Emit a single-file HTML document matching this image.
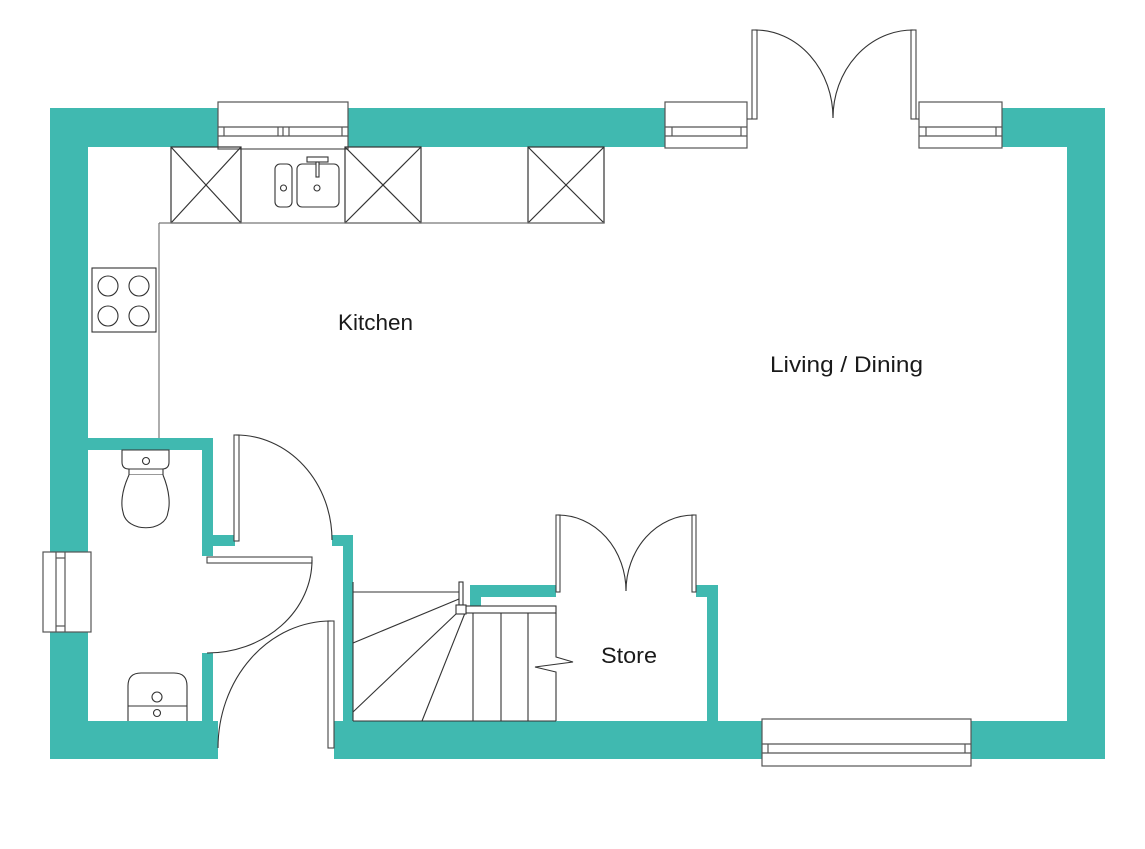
<!DOCTYPE html>
<html>
<head>
<meta charset="utf-8">
<style>
html,body{margin:0;padding:0;background:#fff;}
svg{display:block;}
text{font-family:"Liberation Sans",sans-serif;fill:#1a1a1a;}
</style>
</head>
<body>
<svg width="1145" height="849" viewBox="0 0 1145 849" xmlns="http://www.w3.org/2000/svg">
<rect x="0" y="0" width="1145" height="849" fill="#fff"/>

<!-- Walls -->
<g fill="#40b9b0">
  <rect x="50" y="108" width="38" height="651"/>
  <rect x="50" y="108" width="697" height="39"/>
  <rect x="919" y="108" width="186" height="39"/>
  <rect x="1067" y="108" width="38" height="651"/>
  <rect x="50" y="721" width="168" height="38"/>
  <rect x="334" y="721" width="771" height="38"/>
  <rect x="88" y="438" width="125" height="12"/>
  <rect x="202" y="438" width="11" height="118"/>
  <rect x="202" y="535" width="33" height="11"/>
  <rect x="202" y="653" width="11" height="68"/>
  <rect x="332" y="535" width="21" height="11"/>
  <rect x="343" y="535" width="10" height="186"/>
  <rect x="470" y="585" width="86" height="12"/>
  <rect x="470" y="585" width="11" height="21"/>
  <rect x="696" y="585" width="22" height="12"/>
  <rect x="707" y="585" width="11" height="136"/>
</g>

<!-- Windows -->
<g fill="#fff" stroke="#555" stroke-width="1.2">
  <rect x="218" y="102" width="130" height="47"/>
  <line x1="218" y1="127" x2="348" y2="127"/>
  <line x1="218" y1="136" x2="348" y2="136"/>
  <line x1="224" y1="127" x2="224" y2="136"/>
  <line x1="278" y1="127" x2="278" y2="136"/>
  <line x1="283" y1="127" x2="283" y2="136"/>
  <line x1="289" y1="127" x2="289" y2="136"/>
  <line x1="342" y1="127" x2="342" y2="136"/>
  <rect x="665" y="102" width="82" height="46"/>
  <line x1="665" y1="127" x2="747" y2="127"/>
  <line x1="665" y1="136" x2="747" y2="136"/>
  <line x1="672" y1="127" x2="672" y2="136"/>
  <line x1="741" y1="127" x2="741" y2="136"/>
  <rect x="919" y="102" width="83" height="46"/>
  <line x1="919" y1="127" x2="1002" y2="127"/>
  <line x1="919" y1="136" x2="1002" y2="136"/>
  <line x1="926" y1="127" x2="926" y2="136"/>
  <line x1="996" y1="127" x2="996" y2="136"/>
  <rect x="762" y="719" width="209" height="47"/>
  <line x1="762" y1="744" x2="971" y2="744"/>
  <line x1="762" y1="753" x2="971" y2="753"/>
  <line x1="768" y1="744" x2="768" y2="753"/>
  <line x1="965" y1="744" x2="965" y2="753"/>
  <rect x="43" y="552" width="48" height="80"/>
  <line x1="56" y1="552" x2="56" y2="632"/>
  <line x1="65" y1="552" x2="65" y2="632"/>
  <line x1="56" y1="558" x2="65" y2="558"/>
  <line x1="56" y1="626" x2="65" y2="626"/>
</g>

<!-- Door leaves -->
<g fill="#fff" stroke="#444" stroke-width="1.1">
  <rect x="752" y="30" width="5" height="89"/>
  <line x1="747" y1="119" x2="752" y2="119"/>
  <rect x="911" y="30" width="5" height="89"/>
  <line x1="916" y1="119" x2="919" y2="119"/>
  <rect x="556" y="515" width="4" height="77"/>
  <rect x="692" y="515" width="4" height="77"/>
  <rect x="234" y="435" width="5" height="106"/>
  <rect x="207" y="557" width="105" height="6"/>
  <rect x="328" y="621" width="6" height="127"/>
</g>

<!-- Door swings -->
<g fill="none" stroke="#333" stroke-width="1.1">
  <path d="M755,30 A78 88 0 0 1 833,118"/>
  <path d="M913,30 A80 88 0 0 0 833,118"/>
  <path d="M558,515 A68 76 0 0 1 626,591"/>
  <path d="M694,515 A68 76 0 0 0 626,591"/>
  <path d="M236,435 A96 105 0 0 1 332,540"/>
  <path d="M312,560 A105 93 0 0 1 207,653"/>
  <path d="M331,621 A113 127 0 0 0 218,748"/>
</g>

<!-- Kitchen units -->
<g fill="none" stroke="#333" stroke-width="1.2">
  <rect x="171" y="147" width="70" height="76"/>
  <line x1="171" y1="147" x2="241" y2="223"/>
  <line x1="241" y1="147" x2="171" y2="223"/>
  <rect x="345" y="147" width="76" height="76"/>
  <line x1="345" y1="147" x2="421" y2="223"/>
  <line x1="421" y1="147" x2="345" y2="223"/>
  <rect x="528" y="147" width="76" height="76"/>
  <line x1="528" y1="147" x2="604" y2="223"/>
  <line x1="604" y1="147" x2="528" y2="223"/>
</g>
<g fill="none" stroke="#777" stroke-width="1.2">
  <line x1="159" y1="223" x2="604" y2="223"/>
  <line x1="159" y1="223" x2="159" y2="438"/>
</g>
<!-- Sink -->
<g fill="#fff" stroke="#333" stroke-width="1.1">
  <rect x="275" y="164" width="17" height="43" rx="5"/>
  <circle cx="283.5" cy="188" r="3"/>
  <rect x="297" y="164" width="42" height="43" rx="5"/>
  <circle cx="317" cy="188" r="3"/>
  <rect x="307" y="157" width="21" height="5"/>
  <rect x="316" y="162" width="3" height="15"/>
</g>
<!-- Hob -->
<g fill="#fff" stroke="#333" stroke-width="1.1">
  <rect x="92" y="268" width="64" height="64"/>
  <circle cx="108" cy="286" r="10"/>
  <circle cx="139" cy="286" r="10"/>
  <circle cx="108" cy="316" r="10"/>
  <circle cx="139" cy="316" r="10"/>
</g>

<!-- WC toilet -->
<g fill="#fff" stroke="#333" stroke-width="1.1">
  <path d="M122,450 L169,450 L169,462 Q169,469 162,469 L129,469 Q122,469 122,462 Z"/>
  <circle cx="146" cy="461" r="3.5"/>
  <path d="M129,469 L163,469 L163,475 L129,475 Z"/>
  <path d="M129,475 C121,492 121,505 123,512 C126,533 166,533 168,512 C170,505 170,492 163,475"/>
</g>
<!-- WC basin -->
<g fill="#fff" stroke="#333" stroke-width="1.1">
  <path d="M128,721 L128,686 Q128,673 141,673 L174,673 Q187,673 187,686 L187,721"/>
  <line x1="128" y1="706" x2="187" y2="706"/>
  <circle cx="157" cy="697" r="5"/>
  <circle cx="157" cy="713" r="3.5"/>
</g>

<!-- Stairs -->
<g fill="none" stroke="#333" stroke-width="1.1">
  <line x1="353" y1="582" x2="353" y2="721"/>
  <line x1="353" y1="592" x2="459" y2="592"/>
  <line x1="353" y1="721" x2="556" y2="721"/>
  <line x1="459" y1="599" x2="353" y2="643"/>
  <line x1="457" y1="613" x2="353" y2="712"/>
  <line x1="465" y1="613" x2="422" y2="721"/>
  <line x1="473" y1="613" x2="473" y2="721"/>
  <line x1="501" y1="613" x2="501" y2="721"/>
  <line x1="528" y1="613" x2="528" y2="721"/>
  <polyline points="556,613 556,657 573,662 535,667 556,672 556,721"/>
</g>
<g fill="#fff" stroke="#333" stroke-width="1.1">
  <rect x="466" y="606" width="90" height="7"/>
  <rect x="459" y="582" width="4" height="23"/>
  <rect x="456" y="605" width="10" height="9"/>
</g>

<!-- Labels -->
<text x="338" y="330" font-size="22" textLength="75" lengthAdjust="spacingAndGlyphs">Kitchen</text>
<text x="770" y="372" font-size="22" textLength="153" lengthAdjust="spacingAndGlyphs">Living / Dining</text>
<text x="601" y="663" font-size="22" textLength="56" lengthAdjust="spacingAndGlyphs">Store</text>
</svg>
</body>
</html>
